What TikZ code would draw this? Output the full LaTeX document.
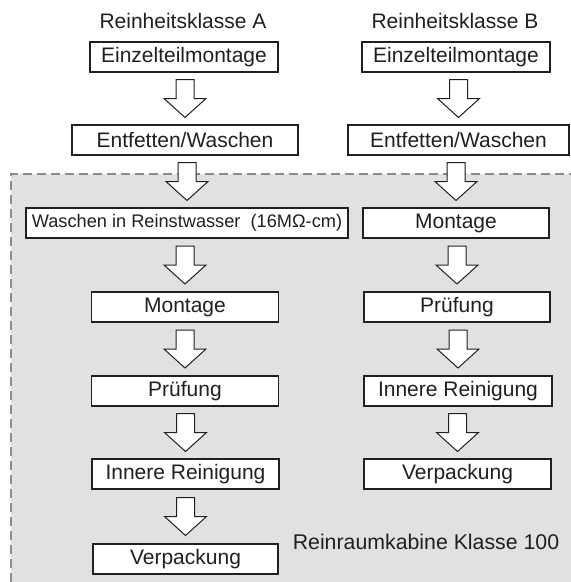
\documentclass[tikz,border=0pt]{standalone}
\usepackage{fontspec}
\setmainfont{Liberation Sans}
\usetikzlibrary{calc}
\definecolor{cabin}{HTML}{E0E1E3}
\definecolor{dashgray}{HTML}{8C8C8C}
\definecolor{ink}{HTML}{231F20}
\tikzset{
  stepbox/.style={draw=ink, line width=1.2pt, fill=white, minimum height=30pt, inner sep=0pt, text=ink, font=\fontsize{21}{24}\selectfont},
  title/.style={inner sep=0pt, text=ink, font=\fontsize{21}{24}\selectfont},
  bigarrow/.pic={\draw[draw=ink, line width=1pt, fill=white, line join=miter]
     (-9pt,19pt) -- (9pt,19pt) -- (9pt,0pt) -- (21pt,0pt) -- (0pt,-19pt) -- (-21pt,0pt) -- (-9pt,0pt) -- cycle;}
}
\newcommand{\flowarrow}[2]{\path ($(#2.north)!0.5!(#2.north |- #1.south)$) pic{bigarrow};}
\begin{document}
\begin{tikzpicture}[x=1pt,y=-1pt]
\useasboundingbox (0,0) rectangle (571,582);
\fill[cabin] (11,174) rectangle (571,582);
\draw[dashgray, line width=1.6pt, dash pattern=on 9pt off 5pt] (11,582) -- (11,174) -- (571,174);

\node[title] (tA) at (183,21) {Reinheitsklasse A};
\node[title] (tB) at (455,21) {Reinheitsklasse B};

\node[stepbox, minimum width=188pt] (eA) at (184,57) {Einzelteilmontage};
\node[stepbox, minimum width=226pt] (fA) at (185,140) {Entfetten/Waschen};
\node[stepbox, minimum width=322pt, font=\fontsize{18.2}{22}\selectfont] (wA) at (187,223) {Waschen in Reinstwasser\ \ (16MΩ-cm)};
\node[stepbox, minimum width=187pt] (mA) at (185,307) {Montage};
\node[stepbox, minimum width=187pt] (pA) at (185,391) {Prüfung};
\node[stepbox, minimum width=187pt] (iA) at (185.5,474) {Innere Reinigung};
\node[stepbox, minimum width=185pt] (vA) at (185.5,559) {Verpackung};

\node[stepbox, minimum width=188pt] (eB) at (456,57) {Einzelteilmontage};
\node[stepbox, minimum width=221pt] (fB) at (458.5,140) {Entfetten/Waschen};
\node[stepbox, minimum width=186pt] (mB) at (456,223) {Montage};
\node[stepbox, minimum width=186pt] (pB) at (457,307) {Prüfung};
\node[stepbox, minimum width=188pt] (iB) at (458,391) {Innere Reinigung};
\node[stepbox, minimum width=187pt] (vB) at (457.5,474) {Verpackung};

\node[title, font=\fontsize{21.3}{24}\selectfont] (cab) at (426,542) {Reinraumkabine Klasse 100};

\flowarrow{eA}{fA}
\flowarrow{fA}{wA}
\flowarrow{wA}{mA}
\flowarrow{mA}{pA}
\flowarrow{pA}{iA}
\flowarrow{iA}{vA}
\flowarrow{eB}{fB}
\flowarrow{fB}{mB}
\flowarrow{mB}{pB}
\flowarrow{pB}{iB}
\flowarrow{iB}{vB}
\end{tikzpicture}
\end{document}
